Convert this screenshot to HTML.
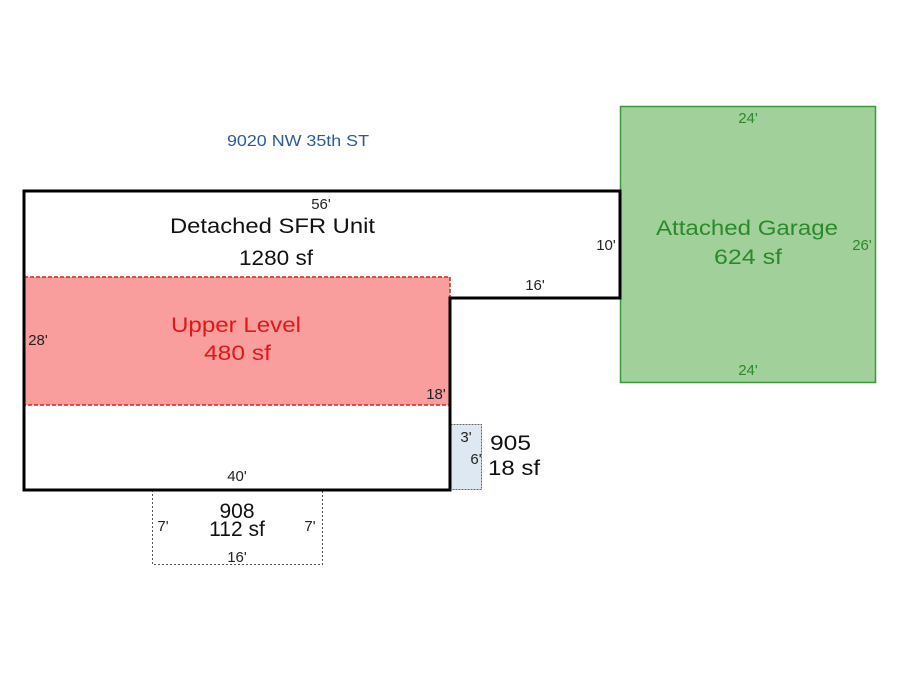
<!DOCTYPE html>
<html><head><style>
body{margin:0;background:#fff;}
svg text{font-family:"Liberation Sans",Arial,sans-serif;}
</style></head><body>
<svg width="900" height="675" xmlns="http://www.w3.org/2000/svg">
<rect x="0" y="0" width="900" height="675" fill="#fff"/>
<text x="227" y="146" font-size="16" fill="#2a5a9a" textLength="142" lengthAdjust="spacingAndGlyphs">9020 NW 35th ST</text>
<!-- garage -->
<rect x="620.5" y="106.5" width="255" height="276" fill="#a2d09a" stroke="#3a9a3a" stroke-width="1.5"/>
<text x="748" y="123" font-size="15" fill="#2a8a2a" text-anchor="middle">24'</text>
<text x="748" y="375" font-size="15" fill="#2a8a2a" text-anchor="middle">24'</text>
<text x="862" y="250" font-size="15" fill="#2a8a2a" text-anchor="middle">26'</text>
<text x="656" y="235" font-size="21" fill="#2a8a2a" textLength="182" lengthAdjust="spacingAndGlyphs">Attached Garage</text>
<text x="714" y="264" font-size="21" fill="#2a8a2a" textLength="68" lengthAdjust="spacingAndGlyphs">624 sf</text>
<!-- upper level -->
<rect x="24" y="277" width="426" height="128" fill="#fa9d9d" stroke="#e02020" stroke-width="1.5" stroke-dasharray="4,2"/>
<text x="171" y="332" font-size="21" fill="#e01818" textLength="130" lengthAdjust="spacingAndGlyphs">Upper Level</text>
<text x="204" y="360" font-size="21" fill="#e01818" textLength="67" lengthAdjust="spacingAndGlyphs">480 sf</text>
<!-- 905 -->
<rect x="450.5" y="424.5" width="31" height="65" fill="#dde8f3" stroke="#666" stroke-width="1" stroke-dasharray="2,1"/>
<text x="466" y="442" font-size="15" fill="#222" text-anchor="middle">3'</text>
<text x="476" y="464" font-size="15" fill="#222" text-anchor="middle">6'</text>
<text x="490" y="450" font-size="21" fill="#111" textLength="41" lengthAdjust="spacingAndGlyphs">905</text>
<text x="488" y="475" font-size="21" fill="#111" textLength="52" lengthAdjust="spacingAndGlyphs">18 sf</text>
<!-- 908 -->
<path d="M152.5 490 V564.5 H322.5 V490" fill="none" stroke="#555" stroke-width="1" stroke-dasharray="2,2"/>
<text x="237" y="518" font-size="21" fill="#111" text-anchor="middle">908</text>
<text x="237" y="536" font-size="21" fill="#111" text-anchor="middle">112 sf</text>
<text x="163" y="531" font-size="15" fill="#222" text-anchor="middle">7'</text>
<text x="310" y="531" font-size="15" fill="#222" text-anchor="middle">7'</text>
<text x="237" y="562" font-size="15" fill="#222" text-anchor="middle">16'</text>
<!-- main outline -->
<path d="M24 191 H620 V298 H450 V490 H24 Z" fill="none" stroke="#000" stroke-width="3"/>
<path d="M24 277 V405 M450 298 V405" fill="none" stroke="#000" stroke-width="1.5" stroke-dasharray="2,2"/>
<text x="321" y="209" font-size="15" fill="#222" text-anchor="middle">56'</text>
<text x="170" y="233" font-size="21" fill="#111" textLength="205" lengthAdjust="spacingAndGlyphs">Detached SFR Unit</text>
<text x="239" y="265" font-size="21" fill="#111" textLength="74" lengthAdjust="spacingAndGlyphs">1280 sf</text>
<text x="606" y="250" font-size="15" fill="#222" text-anchor="middle">10'</text>
<text x="535" y="290" font-size="15" fill="#222" text-anchor="middle">16'</text>
<text x="38" y="345" font-size="15" fill="#222" text-anchor="middle">28'</text>
<text x="436" y="399" font-size="15" fill="#222" text-anchor="middle">18'</text>
<text x="237" y="481" font-size="15" fill="#222" text-anchor="middle">40'</text>
</svg>
</body></html>
